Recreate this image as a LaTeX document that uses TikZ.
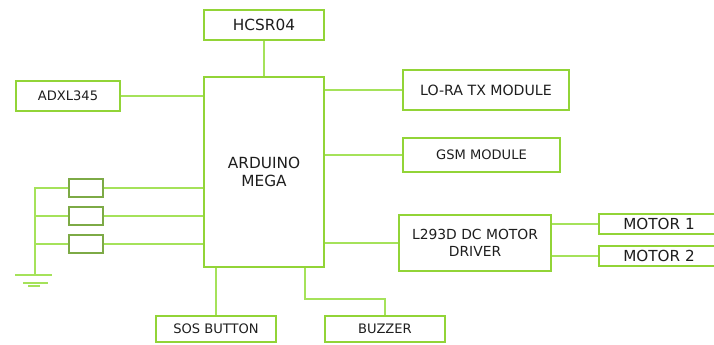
\documentclass[tikz,border=0pt]{standalone}
\usepackage{fontspec}
\setmainfont{DejaVu Sans}
\definecolor{boxgreen}{RGB}{146,212,55}
\definecolor{wiregreen}{RGB}{165,226,90}
\definecolor{resgreen}{RGB}{125,170,70}
\definecolor{labelc}{RGB}{30,30,30}
\newcommand{\fsz}[1]{\fontsize{#1pt}{13.2pt}\selectfont}
\tikzset{
  blockbox/.style={draw=boxgreen,line width=1.4pt,fill=white,text=labelc,inner sep=0pt,align=center,font=\fsz{9.8}},
  motorbox/.style={blockbox,minimum width=90pt,minimum height=15pt,font=\fsz{11.4}},
  resbox/.style={draw=resgreen,line width=1.2pt,fill=white,inner sep=0pt,minimum width=25.5pt,minimum height=13.5pt},
  wire/.style={draw=wiregreen,line width=1.1pt},
}
\begin{document}
\begin{tikzpicture}[x=0.75pt,y=-0.75pt]
\useasboundingbox (0,0) rectangle (714,345);
\clip (0,0) rectangle (714,345);
\node[blockbox,minimum width=90pt,minimum height=22.5pt,font=\fsz{11.5}] (hc) at (264,25) {HCSR04};
\node[blockbox,minimum width=90pt,minimum height=142.5pt,font=\fsz{11.5}] (ard) at (264,172) {ARDUINO\\MEGA};
\node[blockbox,minimum width=78pt,minimum height=22.5pt] (adx) at (68,96) {ADXL345};
\node[blockbox,minimum width=124.5pt,minimum height=30pt,font=\fsz{10.6}] (lora) at (486,90) {LO-RA TX MODULE};
\node[blockbox,minimum width=117.75pt,minimum height=25.5pt] (gsm) at (481.5,155) {GSM MODULE};
\node[blockbox,minimum width=114pt,minimum height=42pt,font=\fsz{10.4}] (drv) at (475,243) {L293D DC MOTOR\\DRIVER};
\node[motorbox] (m1) at (659,224) {MOTOR 1};
\node[motorbox] (m2) at (659,256) {MOTOR 2};
\node[blockbox,minimum width=90pt,minimum height=19.5pt] (sos) at (216,329) {SOS BUTTON};
\node[blockbox,minimum width=90pt,minimum height=19.5pt] (buz) at (385,329) {BUZZER};
\node[resbox] (r1) at (86,188) {};
\node[resbox] (r2) at (86,216) {};
\node[resbox] (r3) at (86,244) {};
\coordinate (gnd) at (35,275);
\coordinate (g1l) at (15,275);
\coordinate (g1r) at (52,275);
\coordinate (g2l) at (23,283);
\coordinate (g2r) at (48,283);
\coordinate (g3l) at (28,286);
\coordinate (g3r) at (40,286);
\coordinate (bz) at (305,299);
\draw[wire] (hc.south) -- (ard.north);
\draw[wire] (adx.east) -- (adx.east -| ard.west);
\draw[wire] (lora.west) -- (lora.west -| ard.east);
\draw[wire] (gsm.west) -- (gsm.west -| ard.east);
\draw[wire] (drv.west) -- (drv.west -| ard.east);
\draw[wire] (m1.west) -- (m1.west -| drv.east);
\draw[wire] (m2.west) -- (m2.west -| drv.east);
\draw[wire] (sos.north) -- (sos.north |- ard.south);
\draw[wire] (bz |- ard.south) -- (bz) -| (buz.north);
\draw[wire] (r1.east) -- (r1.east -| ard.west);
\draw[wire] (r2.east) -- (r2.east -| ard.west);
\draw[wire] (r3.east) -- (r3.east -| ard.west);
\draw[wire] (r1.west) -- (r1.west -| gnd) -- (gnd);
\draw[wire] (r2.west) -- (r2.west -| gnd);
\draw[wire] (r3.west) -- (r3.west -| gnd);
\draw[wire] (g1l) -- (g1r);
\draw[wire] (g2l) -- (g2r);
\draw[wire] (g3l) -- (g3r);
\end{tikzpicture}
\end{document}
